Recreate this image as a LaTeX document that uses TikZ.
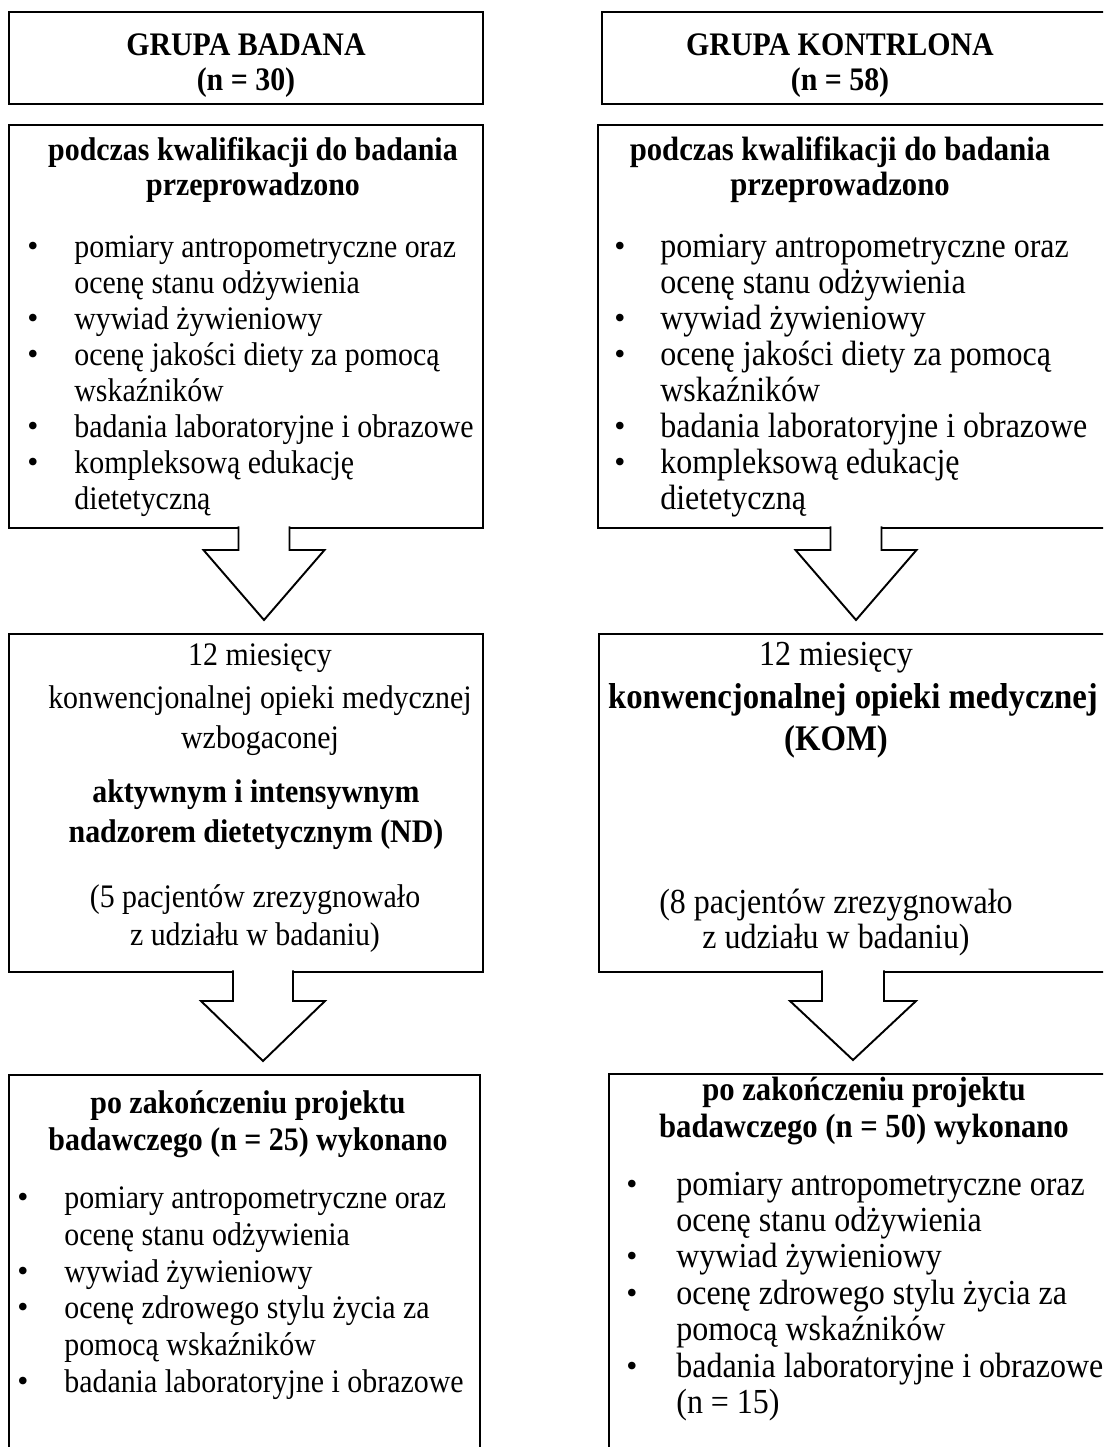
\documentclass[tikz,border=0pt]{standalone}
\usepackage{fontspec}
\setmainfont{Liberation Serif}[FakeStretch=0.91]
\newfontfamily\dotfont{Liberation Serif}
\usetikzlibrary{calc}

% hollow block arrow hanging from the bottom of one box to the next
\newcommand{\flowarrow}[6]{% top box, bottom box, centre x, tail half width, head half width, shoulder y
  \draw[block_arrow] ($({#3-#4},0 |- #1.south)+(0,-1.5)$) -- ({#3-#4},#6) -- ({#3-#5},#6)
    -- ($(#3,0 |- #2.north)+(0,-14)$) -- ({#3+#5},#6) -- ({#3+#4},#6)
    -- ($({#3+#4},0 |- #1.south)+(0,-1.5)$);
}

\begin{document}
\begin{tikzpicture}[x=0.02cm, y=-0.02cm,
    box/.style={draw, line width=1.4pt, anchor=north west, inner sep=0pt, outer sep=0pt},
    txt/.style={anchor=base, inner sep=0pt, font=\fontsize{18.7}{22}\selectfont},
    boldtxt/.style={txt, font=\fontsize{18.7}{22}\selectfont\bfseries},
    rtxt/.style={txt, font=\fontsize{20}{24}\selectfont},
    rboldtxt/.style={txt, font=\fontsize{19.2}{23}\selectfont\bfseries},
    itemtxt/.style={txt, anchor=base west},
    ritemtxt/.style={rtxt, anchor=base west},
    dotmark/.style={anchor=base, inner sep=0pt, yshift=0.02cm, font=\dotfont\fontsize{18}{18}\selectfont},
    block_arrow/.style={draw, fill=white, line width=1.1pt, line join=miter}]

    \useasboundingbox (0,0) rectangle (1103,1447);
    \clip (0,0) rectangle (1103,1447);

    % boxes
    \node[box, minimum width=9.48cm, minimum height=1.84cm] (lt) at (9,12) {};
    \node[box, minimum width=9.48cm, minimum height=8.06cm] (lq) at (9,125) {};
    \node[box, minimum width=9.48cm, minimum height=6.76cm] (lm) at (9,634) {};
    \node[box, minimum width=9.42cm, minimum height=8cm] (lp) at (9,1075) {};
    \node[box, minimum width=10.4cm, minimum height=1.84cm] (rt) at (602,12) {};
    \node[box, minimum width=10.4cm, minimum height=8.06cm] (rq) at (598,125) {};
    \node[box, minimum width=10.4cm, minimum height=6.76cm] (rm) at (599,634) {};
    \node[box, minimum width=10.4cm, minimum height=8cm] (rp) at (609,1074) {};

    % group titles
    \node[boldtxt] (lt1) at (246,55) {GRUPA BADANA};
    \node[boldtxt] (lt2) at (246,90) {(n = 30)};
    \node[boldtxt] (rt1) at (840,55) {GRUPA KONTRLONA};
    \node[boldtxt] (rt2) at (840,90) {(n = 58)};

    % qualification
    \node[boldtxt] (lq1) at (253,160) {podczas kwalifikacji do badania};
    \node[boldtxt] (lq2) at (253,195) {przeprowadzono};
    \node[rboldtxt] (rq1) at (840,160) {podczas kwalifikacji do badania};
    \node[rboldtxt] (rq2) at (840,195) {przeprowadzono};
    \foreach \y/\t [count=\i] in {257/pomiary antropometryczne oraz, 293/ocenę stanu odżywienia,
        329/wywiad żywieniowy, 365/ocenę jakości diety za pomocą, 401/wskaźników,
        437/badania laboratoryjne i obrazowe, 473/kompleksową edukację, 509/dietetyczną} {
      \node[itemtxt] (lqi\i) at (74,\y) {\t};
      \node[ritemtxt] (rqi\i) at (660,\y) {\t};
    }
    \foreach \y [count=\i] in {257,329,365,437,473} {
      \node[dotmark] (lqd\i) at (33,\y) {\textbullet};
      \node[dotmark] (rqd\i) at (620,\y) {\textbullet};
    }

    % 12 months
    \node[txt] (lm1) at (260,665) {12 miesięcy};
    \node[txt] (lm2) at (260,708) {konwencjonalnej opieki medycznej};
    \node[txt] (lm3) at (260,748) {wzbogaconej};
    \node[boldtxt] (lm4) at (256,802) {aktywnym i intensywnym};
    \node[boldtxt] (lm5) at (256,842) {nadzorem dietetycznym (ND)};
    \node[txt] (lm6) at (255,907) {(5 pacjentów zrezygnowało};
    \node[txt] (lm7) at (255,945) {z udziału w badaniu)};
    \node[rtxt] (rm1) at (836,665) {12 miesięcy};
    \node[rboldtxt, font=\fontsize{20.5}{24}\selectfont\bfseries] (rm2) at (853,708) {konwencjonalnej opieki medycznej};
    \node[rboldtxt, font=\fontsize{20.5}{24}\selectfont\bfseries] (rm3) at (836,750) {(KOM)};
    \node[rtxt] (rm4) at (836,913) {(8 pacjentów zrezygnowało};
    \node[rtxt] (rm5) at (836,948) {z udziału w badaniu)};

    % after the project
    \node[boldtxt] (lp1) at (248,1113) {po zakończeniu projektu};
    \node[boldtxt] (lp2) at (248,1150) {badawczego (n = 25) wykonano};
    \foreach \y/\t [count=\i] in {1208/pomiary antropometryczne oraz, 1245/ocenę stanu odżywienia,
        1282/wywiad żywieniowy, 1318/ocenę zdrowego stylu życia za, 1355/pomocą wskaźników,
        1392/badania laboratoryjne i obrazowe}
      \node[itemtxt] (lpi\i) at (64,\y) {\t};
    \foreach \y [count=\i] in {1208,1282,1318,1392}
      \node[dotmark] (lpd\i) at (23,\y) {\textbullet};
    \node[rboldtxt] (rp1) at (864,1100) {po zakończeniu projektu};
    \node[rboldtxt] (rp2) at (864,1137) {badawczego (n = 50) wykonano};
    \foreach \y/\t [count=\i] in {1195/pomiary antropometryczne oraz, 1231/ocenę stanu odżywienia,
        1267/wywiad żywieniowy, 1304/ocenę zdrowego stylu życia za, 1340/pomocą wskaźników,
        1377/badania laboratoryjne i obrazowe, 1413/(n = 15)}
      \node[ritemtxt] (rpi\i) at (676,\y) {\t};
    \foreach \y [count=\i] in {1195,1267,1304,1377}
      \node[dotmark] (rpd\i) at (632,\y) {\textbullet};

    % arrows
    \flowarrow{lq}{lm}{264}{25.5}{60.5}{550}
    \flowarrow{rq}{rm}{856}{25.5}{60.5}{550}
    \flowarrow{lm}{lp}{263}{30}{62}{1001}
    \flowarrow{rm}{rp}{853}{31}{63}{1001}
\end{tikzpicture}
\end{document}
